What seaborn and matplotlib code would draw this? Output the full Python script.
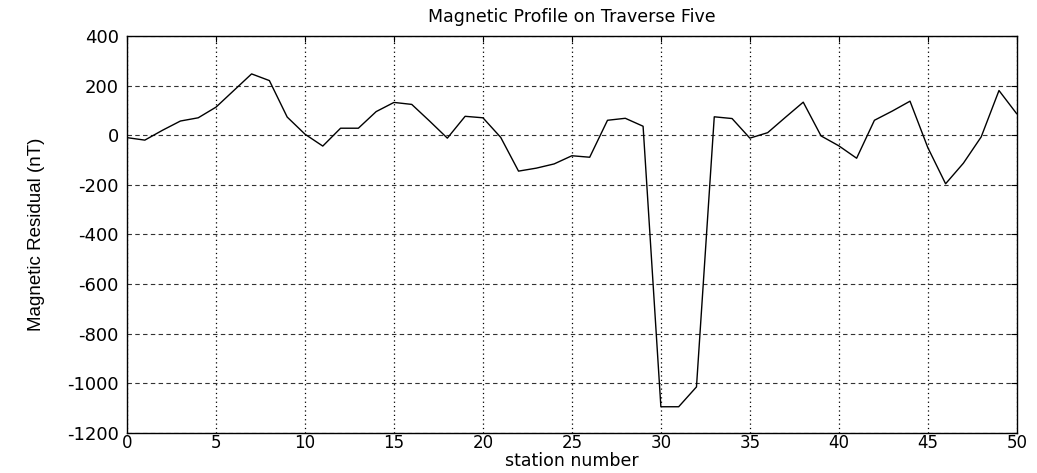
import matplotlib
matplotlib.use("Agg")
import matplotlib.pyplot as plt
import seaborn as sns
import pandas as pd

stations = list(range(0, 51))
residual = [-10, -20, 20, 57, 70, 113, 180, 247, 220, 73,
            4, -44, 28, 28, 95, 132, 124, 57, -12, 76,
            70, -9, -145, -133, -116, -83, -89, 60, 68, 36,
            -1095, -1095, -1015, 74, 67, -12, 10, 72, 133, -3,
            -43, -93, 60, 97, 137, -50, -196, -113, -7, 180,
            86]
x_ticks = [0, 5, 10, 15, 20, 25, 30, 35, 40, 45, 50]
y_ticks = [400, 200, 0, -200, -400, -600, -800, -1000, -1200]

sns.set_style("white")
plt.rcParams['font.family'] = ['DejaVu Sans']
plt.rcParams['axes.unicode_minus'] = False
plt.rcParams['text.color'] = 'black'
plt.rcParams['axes.labelcolor'] = 'black'

df = pd.DataFrame({"station": stations, "residual": residual})

fig = plt.figure(figsize=(10.37, 4.73), dpi=100)
ax = fig.add_axes([0.1225, 0.085, 0.858, 0.839])
sns.lineplot(data=df, x="station", y="residual", ax=ax, color="black", linewidth=1.0)

ax.set_xlim(0, 50)
ax.set_ylim(-1200, 400)
ax.set_xticks(x_ticks)
ax.set_yticks(y_ticks)
ax.tick_params(axis="both", direction="in", length=4, labelsize=13, colors="black",
               top=True, right=True)
ax.tick_params(axis="y", pad=6)
ax.tick_params(axis="x", pad=1, labelsize=12)
for s in ax.spines.values():
    s.set_color("black")
    s.set_linewidth(1.0)

ax.xaxis.grid(True, linestyle=(0, (1, 2.5)), color="black", linewidth=0.9)
ax.yaxis.grid(True, linestyle=(0, (4, 3)), color="#333333", linewidth=0.8)
ax.set_axisbelow(True)

ax.set_title("Magnetic Profile on Traverse Five", fontsize=12.5, pad=10, color="black")
ax.set_xlabel("station number", fontsize=12.5, labelpad=0, color="black")
ax.set_ylabel("Magnetic Residual (nT)", fontsize=13.5, labelpad=16, color="black",
              family=['Liberation Sans', 'DejaVu Sans'])

fig.savefig("out.png", dpi=100)
